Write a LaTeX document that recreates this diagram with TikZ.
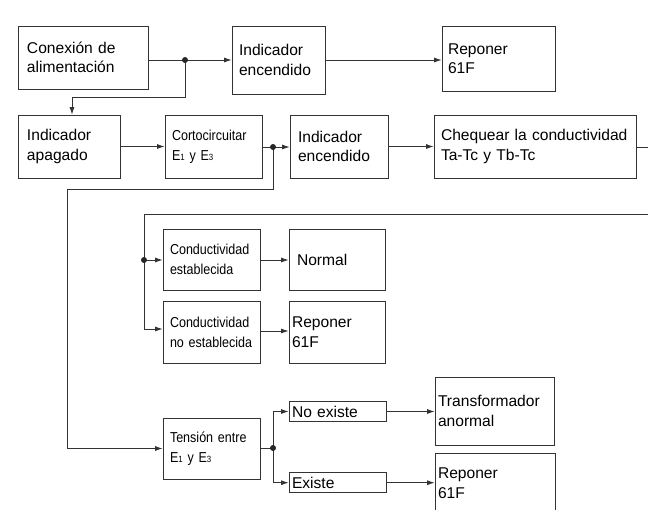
\documentclass[tikz,border=0pt]{standalone}
\usepackage{fontspec}
\setmainfont{Liberation Sans}
\newfontfamily\narrowfont[FakeStretch=0.87]{Liberation Sans}
\usepackage{tikz}
\usetikzlibrary{arrows.meta}

\newcommand{\mainsize}{\fontsize{15.6}{19.5}\selectfont}
\newcommand{\subsize}{\narrowfont\fontsize{14.4}{20}\selectfont}
\newcommand{\esub}[1]{{\fontsize{9}{9}\selectfont #1}}

\begin{document}
\hyphenpenalty=10000
\exhyphenpenalty=10000
\begin{tikzpicture}[x=1pt, y=-1pt,
        box/.style={draw=black!80, line width=0.8pt, align=left, font=\mainsize},
        link/.style={draw=black!80, line width=0.8pt},
        flow/.style={link, -{Latex[length=7.5pt,width=5pt]}}]
        \useasboundingbox (0,0) rectangle (648,509);
        \clip (0,0) rectangle (648,509);

        % First row.
        \node[box, text width=112pt, inner xsep=9pt, minimum height=63pt] (conexion) at (83,57.5) {Conexión de\\alimentación};
        \node[box, text width=79pt, inner xsep=7pt, minimum height=68pt] (indA) at (278.5,60) {Indicador\\encendido};
        \node[box, text width=101pt, inner xsep=6pt, minimum height=65pt] (repA) at (498.5,58.5) {Reponer\\61F};

        % Second row.
        \node[box, text width=84pt, inner xsep=9pt, minimum height=63pt] (apagado) at (69,146.5) {Indicador\\apagado};
        \node[box, font=\subsize, text width=83pt, inner xsep=7pt, minimum height=63pt] (corto) at (213.5,146.5) {Cortocircuitar\\E\esub{1} y E\esub{3}};
        \node[box, text width=82pt, inner xsep=8pt, minimum height=63pt] (indB) at (339,146.5) {Indicador\\encendido};
        \node[box, text width=188pt, inner xsep=7pt, minimum height=63pt] (chequear) at (535,146.5) {Chequear la conductividad\\Ta-Tc y Tb-Tc};

        % Conductivity branch.
        \node[box, font=\subsize, text width=83pt, inner xsep=7pt, minimum height=61pt] (condE) at (211.5,259.5) {Conductividad\\establecida};
        \node[box, text width=80pt, inner xsep=8pt, minimum height=61pt] (normal) at (337,259.5) {Normal};
        \node[box, font=\subsize, text width=83pt, inner xsep=7pt, minimum height=62pt] (condNo) at (211.5,332) {Conductividad\\no establecida};
        \node[box, text width=90pt, inner xsep=3pt, minimum height=62pt] (repB) at (337,332) {Reponer\\61F};

        % Voltage branch.
        \node[box, font=\subsize, text width=83pt, inner xsep=7pt, minimum height=61pt] (tension) at (211.5,448.5) {Tensión entre\\E\esub{1} y E\esub{3}};
        \node[box, text width=91pt, inner xsep=3pt, inner ysep=0pt, minimum height=20pt] (noEx) at (337.5,411.5) {No existe};
        \node[box, text width=91pt, inner xsep=3pt, inner ysep=0pt, minimum height=20pt] (ex) at (337.5,482.7) {Existe};
        \node[box, text width=113pt, inner xsep=3pt, minimum height=68pt] (trans) at (494.5,411) {Transformador\\anormal};
        \node[box, text width=114pt, inner xsep=3pt, minimum height=60pt] (repC) at (495,483) {Reponer\\61F};

        % Junctions and bends.
        \coordinate (dotA) at (185,60);
        \coordinate (bendA) at (72,97);
        \coordinate (dotB) at (273,147);
        \coordinate (bendB) at (67,189);
        \coordinate (edgeA) at (648,147);
        \coordinate (edgeB) at (648,214);
        \coordinate (dotC) at (144,260);
        \coordinate (dotD) at (273,448);

        % Connectors.
        \draw[link] (conexion.east |- dotA) -- (dotA);
        \draw[flow] (dotA) -- (indA.west |- dotA);
        \draw[flow] (dotA) |- (bendA) -- (apagado.north -| bendA);
        \draw[flow] (indA.east) -- (repA.west |- indA.east);
        \draw[flow] (apagado.east) -- (corto.west);
        \draw[link] (corto.east |- dotB) -- (dotB);
        \draw[flow] (dotB) -- (indB.west |- dotB);
        \draw[flow] (indB.east) -- (chequear.west);
        \draw[link] (chequear.east |- edgeA) -- (edgeA);
        \draw[flow] (dotB) |- (bendB) |- (tension.west);

        \draw[link] (edgeB) -| (dotC);
        \draw[flow] (dotC) -- (condE.west |- dotC);
        \draw[flow] (dotC) |- (condNo.west |- 0,329);
        \draw[flow] (condE.east |- dotC) -- (normal.west |- dotC);
        \draw[flow] (condNo.east |- 0,331) -- (repB.west |- 0,331);

        \draw[link] (tension.east |- dotD) -- (dotD);
        \draw[flow] (dotD) |- (noEx.west);
        \draw[flow] (dotD) |- (ex.west);
        \draw[flow] (noEx.east) -- (trans.west |- noEx.east);
        \draw[flow] (ex.east) -- (repC.west |- ex.east);

        \foreach \dot in {dotA,dotB,dotC,dotD}
            \fill[black!85] (\dot) circle (3pt);
    \end{tikzpicture}
\end{document}
